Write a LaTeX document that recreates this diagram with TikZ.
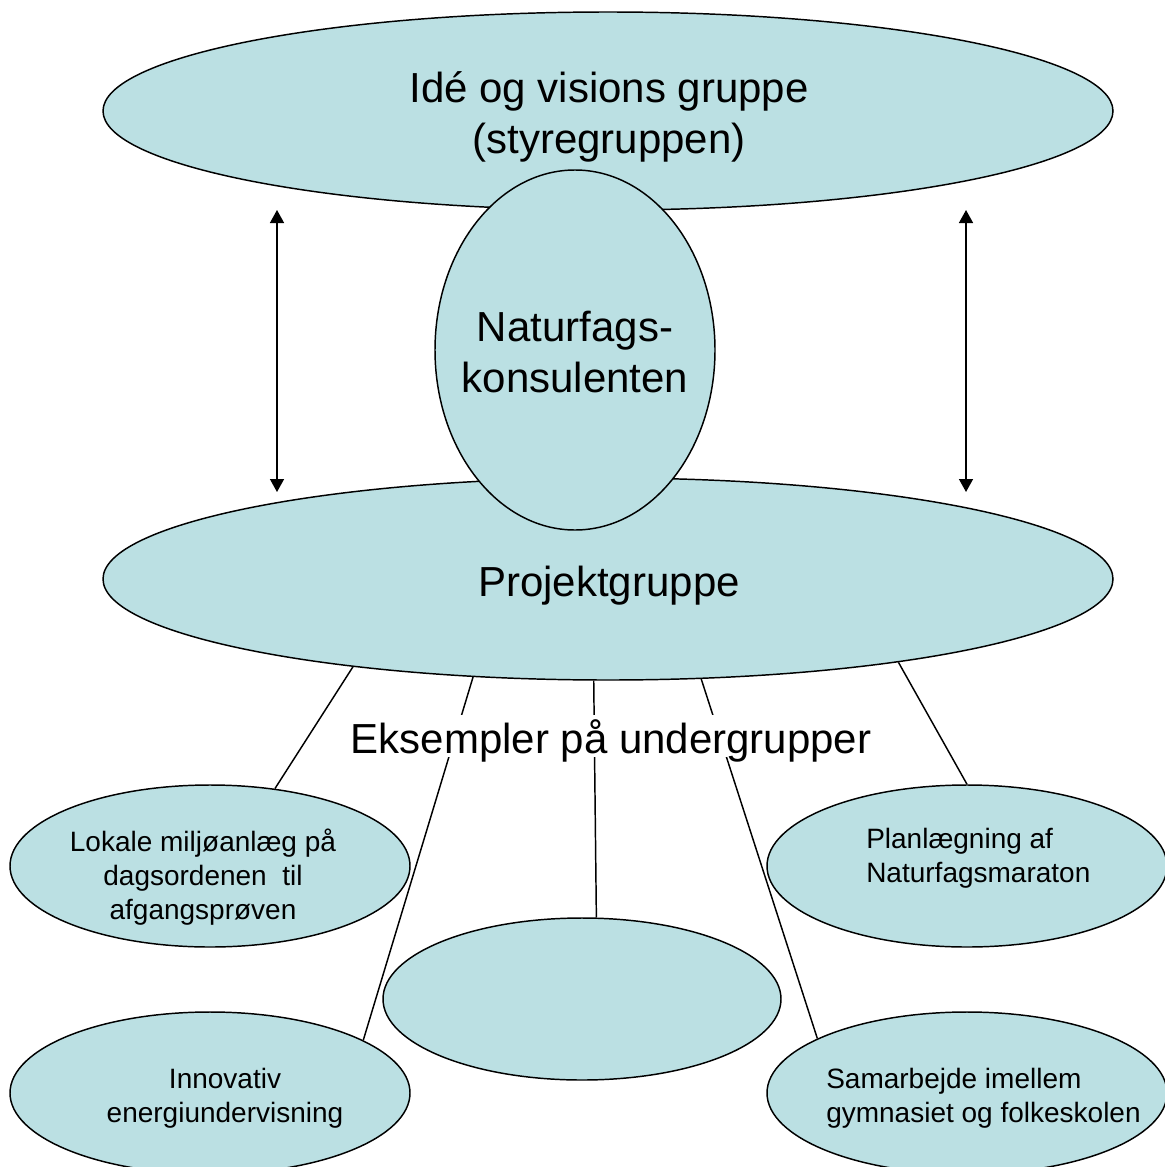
\documentclass[tikz,border=0pt]{standalone}
\usepackage{fontspec}
\setmainfont{Liberation Sans}
\usetikzlibrary{positioning}
\usetikzlibrary{shapes.geometric}
\usetikzlibrary{arrows.meta}
\pgfdeclarelayer{background}
\pgfsetlayers{background,main}
\definecolor{groupfill}{RGB}{187,224,227}

\begin{document}
\begin{tikzpicture}[x=0.75pt,y=-0.75pt,
					groupnode/.style={ellipse, draw=black, line width=1.1pt, fill=groupfill, inner sep=0pt},
					bigtext/.style={align=center, inner sep=0pt, font=\fontsize{31.5}{37.8}\selectfont},
					smalltext/.style={inner sep=0pt, font=\fontsize{21}{25.5}\selectfont},
					examplebox/.style={fill=white, inner sep=3pt, text depth=0pt, font=\fontsize{31.5}{37.8}\selectfont},
					connector/.style={line width=1.1pt},
					twoway/.style={line width=1.1pt, {Triangle[length=9.75pt,width=10.5pt]}-{Triangle[length=9.75pt,width=10.5pt]}},
					]
					\useasboundingbox (0,0) rectangle (1164,1167);
					%Nodes
					\node[groupnode, minimum width=757.5pt, minimum height=148.5pt]  (idea)   at (608,111)  {};
					\node[groupnode, minimum width=757.5pt, minimum height=151.5pt]  (proj)   at (608,579)  {};
					\node[groupnode, minimum width=210pt, minimum height=270pt]      (kons)   at (575,350)  {};
					\node[groupnode, minimum width=300pt, minimum height=121.5pt]    (lokale) at (210,866)  {};
					\node[groupnode, minimum width=300pt, minimum height=121.5pt]    (innov)  at (210,1093) {};
					\node[groupnode, minimum width=298.5pt, minimum height=121.5pt]  (blank)  at (582,999)  {};
					\node[groupnode, minimum width=300pt, minimum height=121.5pt]    (plan)   at (967,866)  {};
					\node[groupnode, minimum width=300pt, minimum height=121.5pt]    (samarb) at (967,1093) {};

					%Texts
					\node[bigtext]                           (idea-txt)   at (609,117)  {Idé og visions gruppe\\(styregruppen)};
					\node[bigtext]                           (kons-txt)   at (575,352)  {Naturfags-\\konsulenten};
					\node[bigtext, align=none, anchor=base]  (proj-txt)   at (609,596)  {Projektgruppe};
					\node[examplebox, anchor=base]           (eks)        at (611,753)  {Eksempler på undergrupper};
					\node[smalltext, align=center]           (lokale-txt) at (203,877)  {Lokale miljøanlæg på\\dagsordenen\ \ til\\afgangsprøven};
					\node[smalltext, align=center]           (innov-txt)  at (225,1098) {Innovativ\\energiundervisning};
					\node[smalltext, align=left, anchor=west] (plan-txt)  at (866,858)  {Planlægning af\\Naturfagsmaraton};
					\node[smalltext, align=left, anchor=west] (samarb-txt) at (826,1098) {Samarbejde imellem\\gymnasiet og folkeskolen};

					%Arrow ends
					\coordinate (left-top)  at (277,210);
					\coordinate (left-bot)  at (277,492);
					\coordinate (right-top) at (966,210);
					\coordinate (right-bot) at (966,492);
					\draw[twoway] (left-top) -- (left-bot);
					\draw[twoway] (right-top) -- (right-bot);

					\begin{pgfonlayer}{background}
					%Lines
					\draw[connector] (proj.199.4) -- (lokale.50);
					\draw[connector] (proj.216.5) -- (innov.19.8);
					\draw[connector] (proj.262.7) -- (blank.80.9);
					\draw[connector] (proj.313.5) -- (samarb.160.2);
					\draw[connector] (proj.344.3) -- (plan.north);
					\end{pgfonlayer}
				\end{tikzpicture}
\end{document}
